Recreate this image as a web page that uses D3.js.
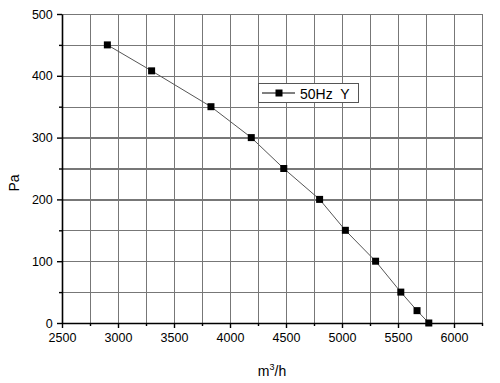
<!DOCTYPE html>
<html><head><meta charset="utf-8">
<script src="https://cdn.jsdelivr.net/npm/d3@7"></script>
<style>body{margin:0;background:#fff}svg{display:block}text{font-family:"Liberation Sans",Arial,sans-serif}</style>
</head><body><svg id="c" width="500" height="383"></svg>
<script>
const flow = [2905, 3300, 3830, 4190, 4480, 4800, 5030, 5300, 5525, 5670, 5775];
const pressure = [450, 408, 350, 300, 250, 200, 150, 100, 50, 20, 0];
const xTicks = [2500, 3000, 3500, 4000, 4500, 5000, 5500, 6000];
const yTicks = [0, 100, 200, 300, 400, 500];
const xGrid = [2750, 3000, 3250, 3500, 3750, 4000, 4250, 4500, 4750, 5000, 5250, 5500, 5750, 6000, 6250];
const yGrid = [50, 100, 150, 200, 250, 300, 350, 400, 450, 500];
const seriesName = "50Hz  Y";

const svg = d3.select("#c");
const L = 62, R = 482, T = 14, B = 323;
const x = d3.scaleLinear().domain([2500, 6250]).range([L, R]);
const y = d3.scaleLinear().domain([0, 500]).range([B, T]);

// grid through d3 axes with full-length ticks
const gx = svg.append("g").attr("transform", `translate(0,${B})`)
  .call(d3.axisBottom(x).tickValues(xGrid).tickFormat("").tickSize(-(B - T)).tickSizeOuter(0));
gx.select(".domain").remove();
gx.selectAll(".tick line").attr("stroke", "#777").attr("stroke-width", 1.3).attr("shape-rendering", "crispEdges");
const gy = svg.append("g").attr("transform", `translate(${L},0)`)
  .call(d3.axisLeft(y).tickValues(yGrid).tickFormat("").tickSize(-(R - L)).tickSizeOuter(0));
gy.select(".domain").remove();
gy.selectAll(".tick line").attr("stroke", "#777").attr("stroke-width", 1.3).attr("shape-rendering", "crispEdges");

// axes
const xa = svg.append("g").attr("class", "ax").attr("transform", `translate(0,${B})`)
  .call(d3.axisBottom(x).tickValues(xTicks).tickFormat(d3.format("d")).tickSize(5).tickSizeOuter(0));
const ya = svg.append("g").attr("class", "ax").attr("transform", `translate(${L},0)`)
  .call(d3.axisLeft(y).tickValues(yTicks).tickFormat(d3.format("d")).tickSize(5).tickSizeOuter(0));
const mx = svg.append("g").attr("class", "ax").attr("transform", `translate(0,${B})`)
  .call(d3.axisBottom(x).tickValues(xGrid.filter(v => !xTicks.includes(v))).tickFormat("").tickSize(3).tickSizeOuter(0));
mx.select(".domain").remove();
const my = svg.append("g").attr("class", "ax").attr("transform", `translate(${L},0)`)
  .call(d3.axisLeft(y).tickValues(yGrid.filter(v => !yTicks.includes(v))).tickFormat("").tickSize(3).tickSizeOuter(0));
my.select(".domain").remove();
svg.selectAll(".ax .domain").attr("stroke", "#000").attr("stroke-width", 1.6);
svg.selectAll(".ax .tick line").attr("stroke", "#000").attr("stroke-width", 1.4);
xa.selectAll("text").attr("font-size", 12.5).attr("fill", "#000").attr("dy", "0.9em");
ya.selectAll("text").attr("font-size", 12.5).attr("fill", "#000").attr("dx", "-0.1em");

// line + markers
const line = d3.line().x((d, i) => x(flow[i])).y(d => y(d));
svg.append("path").datum(pressure).attr("d", line)
  .attr("fill", "none").attr("stroke", "#555").attr("stroke-width", 1);
svg.append("g").selectAll("rect").data(pressure).enter().append("rect")
  .attr("x", (d, i) => x(flow[i]) - 3.5).attr("y", d => y(d) - 3.5)
  .attr("width", 7).attr("height", 7).attr("fill", "#000");

// legend
const lg = svg.append("g");
lg.append("rect").attr("x", 258.5).attr("y", 83.5).attr("width", 100).attr("height", 19)
  .attr("fill", "#fff").attr("stroke", "#555").attr("stroke-width", 1);
lg.append("line").attr("x1", 262).attr("x2", 295).attr("y1", 93).attr("y2", 93).attr("stroke", "#000");
lg.append("rect").attr("x", 275.5).attr("y", 89.5).attr("width", 7).attr("height", 7).attr("fill", "#000");
lg.append("text").attr("x", 300).attr("y", 98.5).attr("font-size", 14).attr("xml:space", "preserve").style("white-space", "pre").text(seriesName);

// axis titles
svg.append("text").attr("transform", "translate(19,183) rotate(-90)").attr("text-anchor", "middle")
  .attr("font-size", 14).text("Pa");
const xt = svg.append("text").attr("x", 272).attr("y", 376).attr("text-anchor", "middle").attr("font-size", 14);
xt.append("tspan").text("m");
xt.append("tspan").attr("font-size", 9).attr("dy", -6).text("3");
xt.append("tspan").attr("dy", 6).text("/h");
</script></body></html>
